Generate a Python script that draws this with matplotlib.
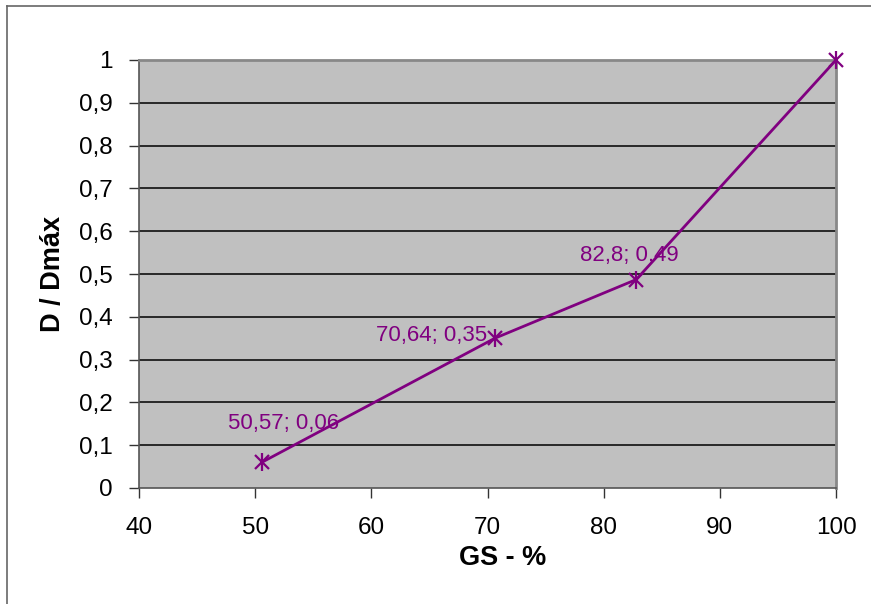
import matplotlib
matplotlib.use("Agg")
import matplotlib.pyplot as plt
from matplotlib.lines import Line2D

plt.rcParams['font.family'] = ['Liberation Sans', 'DejaVu Sans']

gs = [50.57, 70.64, 82.8, 100]
d_ratio = [0.06, 0.35, 0.487, 1.0]
point_labels = ["50,57; 0,06", "70,64; 0,35", "82,8; 0,49", None]
x_ticks = [40, 50, 60, 70, 80, 90, 100]
x_ticklabels = ["40", "50", "60", "70", "80", "90", "100"]
y_ticks = [0, 0.1, 0.2, 0.3, 0.4, 0.5, 0.6, 0.7, 0.8, 0.9, 1.0]
y_ticklabels = ["0", "0,1", "0,2", "0,3", "0,4", "0,5", "0,6", "0,7", "0,8", "0,9", "1"]

purple = "#800080"

fig = plt.figure(figsize=(8.71, 6.04), dpi=100)
ax = fig.add_axes([139/871, 1-488/604, (836-139)/871, (488-60)/604])
ax.set_facecolor("#c0c0c0")
ax.set_xlim(40, 100)
ax.set_ylim(0, 1)
ax.set_xticks(x_ticks)
ax.set_xticklabels(x_ticklabels)
ax.set_yticks(y_ticks)
ax.set_yticklabels(y_ticklabels)
ax.tick_params(axis='both', direction='out', length=7, width=1, color='#333333',
               labelsize=17.5, colors='black')
ax.tick_params(axis='x', pad=14)
ax.tick_params(axis='y', pad=12)
ax.tick_params(axis='both', color='#333333')
for y in y_ticks[1:-1]:
    ax.axhline(y, color='black', lw=1.1, zorder=1)
for s in ['left', 'bottom']:
    ax.spines[s].set_color('#555555')
    ax.spines[s].set_linewidth(1.2)
for s in ['top', 'right']:
    ax.spines[s].set_color('#888888')
    ax.spines[s].set_linewidth(2)

ax.plot(gs, d_ratio, color=purple, lw=2, zorder=3, clip_on=False)
ax.plot(gs, d_ratio, ls='none', marker='x', ms=10, mew=1.6, color=purple, zorder=4, clip_on=False)
ax.plot(gs, d_ratio, ls='none', marker='|', ms=13, mew=1.6, color=purple, zorder=4, clip_on=False)

offsets = [(22, 39), (-63, 3), (-7, 24)]
for xv, yv, lab, off in zip(gs, d_ratio, point_labels, offsets + [(0, 0)]):
    if lab is None:
        continue
    ax.annotate(lab, (xv, yv), xytext=off, textcoords='offset pixels',
                ha='center', va='center', fontsize=16, color=purple, zorder=5)

ax.set_xlabel("GS - %", fontsize=19.5, fontweight='bold', va='center')
ax.xaxis.set_label_coords((503-139)/697, (488-558)/428)
ax.set_ylabel("D / Dmáx", fontsize=19.5, fontweight='bold', va='center')
ax.yaxis.set_label_coords((53-139)/697, 0.5)

fig.add_artist(Line2D([7/871, 7/871], [0, 1-6/604], color='#666666', lw=1.2, transform=fig.transFigure))
fig.add_artist(Line2D([7/871, 1], [1-6/604, 1-6/604], color='#666666', lw=1.2, transform=fig.transFigure))

fig.savefig("out.png", dpi=100)
